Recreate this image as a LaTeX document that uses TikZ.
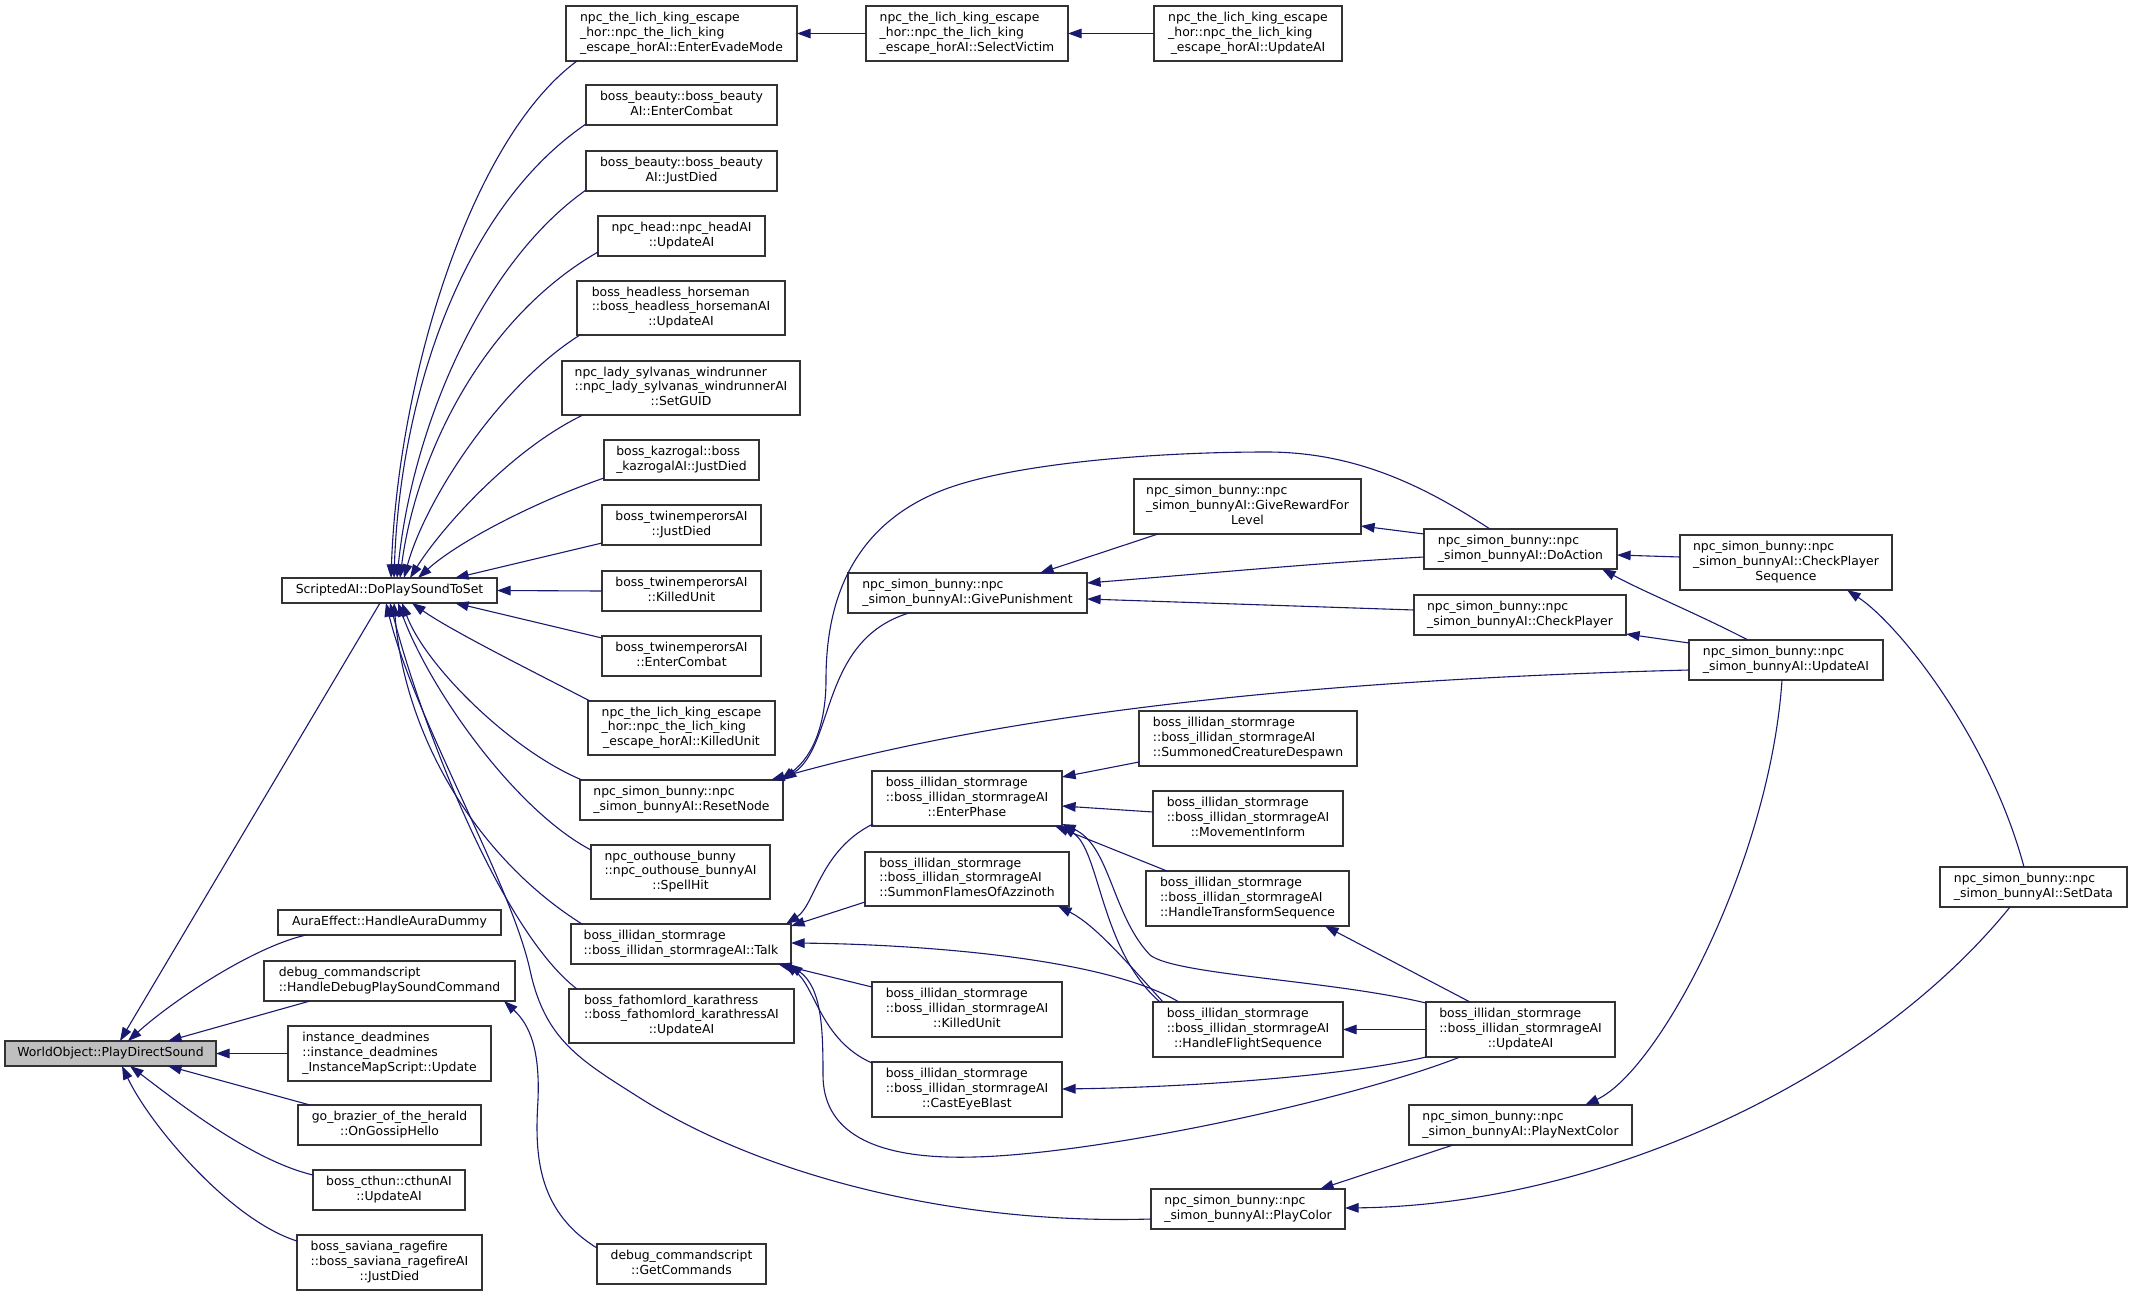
\documentclass[tikz,border=0pt]{standalone}
\usepackage{fontspec}
\setmainfont{DejaVu Sans}
\usetikzlibrary{arrows.meta,calc}
\definecolor{mblue}{RGB}{25,25,112}
\definecolor{rootfill}{RGB}{191,191,191}
\newcommand\twol[2]{\begin{tabular}{@{}l@{}}#1\\\multicolumn{1}{@{}c@{}}{#2}\end{tabular}}
\newcommand\threel[3]{\begin{tabular}{@{}l@{}}#1\\#2\\\multicolumn{1}{@{}c@{}}{#3}\end{tabular}}
\newcommand\ill[1]{\threel{boss\_illidan\_stormrage}{::boss\_illidan\_stormrageAI}{#1}}
\newcommand\snb[1]{\twol{npc\_simon\_bunny::npc}{#1}}
\newcommand\lkt[1]{\threel{npc\_the\_lich\_king\_escape}{\_hor::npc\_the\_lich\_king}{#1}}
\newcommand\bx[7][]{%
  \pgfmathsetmacro\bxw{(#5-#3)*0.5}%
  \pgfmathsetmacro\bxh{(#6-#4)*0.5}%
  \node[boxst,#1,minimum width=\bxw pt,minimum height=\bxh pt] (#2) at ({(#3+#5)/2},{(#4+#6)/2}) {#7};%
}
\newcommand\bp[3]{($(#1.north west)+(#2,#3)$)}
\begin{document}
\begin{tikzpicture}[x=0.5pt,y=-0.5pt,
  boxst/.style={draw=black!80,line width=0.65pt,fill=white,inner sep=0pt,outer sep=0pt,
    font=\fontsize{6.2}{7.3}\selectfont,anchor=center},
  cl/.style={draw=mblue,line width=0.55pt,{Triangle[length=6.8pt,width=4.8pt]}-}]
\fill[white] (0,0) rectangle (2132,1296);
\useasboundingbox (0,0) rectangle (2132,1296);
% nodes
\bx[fill=rootfill]{w}{5}{1041}{216}{1066}{WorldObject::PlayDirectSound}
\bx{sa}{282}{578}{497}{603}{ScriptedAI::DoPlaySoundToSet}
\bx{eem}{566}{6}{797}{61}{\lkt{\_escape\_horAI::EnterEvadeMode}}
\bx{sv}{866}{6}{1068}{61}{\lkt{\_escape\_horAI::SelectVictim}}
\bx{lkua}{1154}{6}{1342}{61}{\lkt{\_escape\_horAI::UpdateAI}}
\bx{bec}{586}{85}{777}{125}{\twol{boss\_beauty::boss\_beauty}{AI::EnterCombat}}
\bx{bjd}{586}{151}{777}{191}{\twol{boss\_beauty::boss\_beauty}{AI::JustDied}}
\bx{nhu}{598}{216}{765}{256}{\twol{npc\_head::npc\_headAI}{::UpdateAI}}
\bx{hh}{577}{281}{785}{335}{\threel{boss\_headless\_horseman}{::boss\_headless\_horsemanAI}{::UpdateAI}}
\bx{ls}{562}{361}{800}{415}{\threel{npc\_lady\_sylvanas\_windrunner}{::npc\_lady\_sylvanas\_windrunnerAI}{::SetGUID}}
\bx{kz}{604}{440}{759}{480}{\twol{boss\_kazrogal::boss}{\_kazrogalAI::JustDied}}
\bx{tjd}{602}{505}{761}{545}{\twol{boss\_twinemperorsAI}{::JustDied}}
\bx{tku}{602}{571}{761}{611}{\twol{boss\_twinemperorsAI}{::KilledUnit}}
\bx{tec}{602}{636}{761}{676}{\twol{boss\_twinemperorsAI}{::EnterCombat}}
\bx{lkku}{588}{701}{775}{755}{\lkt{\_escape\_horAI::KilledUnit}}
\bx{rn}{580}{780}{783}{820}{\snb{\_simon\_bunnyAI::ResetNode}}
\bx{oh}{591}{845}{770}{899}{\threel{npc\_outhouse\_bunny}{::npc\_outhouse\_bunnyAI}{::SpellHit}}
\bx{talk}{571}{924}{791}{964}{\twol{boss\_illidan\_stormrage}{::boss\_illidan\_stormrageAI::Talk}}
\bx{fl}{569}{989}{794}{1043}{\threel{boss\_fathomlord\_karathress}{::boss\_fathomlord\_karathressAI}{::UpdateAI}}
\bx{gc}{597}{1244}{766}{1284}{\twol{debug\_commandscript}{::GetCommands}}
\bx{ae}{278}{910}{501}{935}{AuraEffect::HandleAuraDummy}
\bx{hd}{264}{961}{515}{1001}{\twol{debug\_commandscript}{::HandleDebugPlaySoundCommand}}
\bx{id}{288}{1026}{491}{1081}{\threel{instance\_deadmines}{::instance\_deadmines}{\_InstanceMapScript::Update}}
\bx{gb}{298}{1105}{481}{1145}{\twol{go\_brazier\_of\_the\_herald}{::OnGossipHello}}
\bx{ct}{313}{1170}{465}{1210}{\twol{boss\_cthun::cthunAI}{::UpdateAI}}
\bx{sav}{297}{1235}{482}{1290}{\threel{boss\_saviana\_ragefire}{::boss\_saviana\_ragefireAI}{::JustDied}}
\bx{gp}{848}{573}{1087}{613}{\snb{\_simon\_bunnyAI::GivePunishment}}
\bx{ep}{872}{771}{1062}{826}{\ill{::EnterPhase}}
\bx{sf}{865}{852}{1069}{906}{\ill{::SummonFlamesOfAzzinoth}}
\bx{iku}{872}{982}{1062}{1037}{\ill{::KilledUnit}}
\bx{ceb}{872}{1062}{1062}{1117}{\ill{::CastEyeBlast}}
\bx{grl}{1134}{479}{1361}{534}{\threel{npc\_simon\_bunny::npc}{\_simon\_bunnyAI::GiveRewardFor}{Level}}
\bx{da}{1424}{529}{1617}{569}{\snb{\_simon\_bunnyAI::DoAction}}
\bx{cp}{1414}{595}{1626}{635}{\snb{\_simon\_bunnyAI::CheckPlayer}}
\bx{scd}{1139}{711}{1357}{766}{\ill{::SummonedCreatureDespawn}}
\bx{mi}{1153}{791}{1343}{846}{\ill{::MovementInform}}
\bx{hts}{1146}{871}{1349}{926}{\ill{::HandleTransformSequence}}
\bx{hfs}{1153}{1002}{1343}{1057}{\ill{::HandleFlightSequence}}
\bx{iua}{1426}{1002}{1615}{1057}{\ill{::UpdateAI}}
\bx{pnc}{1409}{1105}{1632}{1145}{\snb{\_simon\_bunnyAI::PlayNextColor}}
\bx{pc}{1151}{1189}{1345}{1229}{\snb{\_simon\_bunnyAI::PlayColor}}
\bx{cps}{1680}{535}{1892}{590}{\threel{npc\_simon\_bunny::npc}{\_simon\_bunnyAI::CheckPlayer}{Sequence}}
\bx{sua}{1689}{640}{1883}{680}{\snb{\_simon\_bunnyAI::UpdateAI}}
\bx{sd}{1940}{867}{2127}{907}{\snb{\_simon\_bunnyAI::SetData}}
% edges into root
\draw[cl] \bp{w}{115}{0} -- \bp{sa}{98}{25};
\draw[cl] \bp{w}{123}{0} .. controls (170,1003) and (250,948) .. \bp{ae}{28}{25};
\draw[cl] \bp{w}{163}{0} -- \bp{hd}{46}{40};
\draw[cl] (w.east) -- (id.west);
\draw[cl] \bp{w}{163}{25} -- \bp{gb}{12}{0};
\draw[cl] \bp{w}{125}{25} .. controls (175,1100) and (250,1160) .. \bp{ct}{0}{5};
\draw[cl] \bp{w}{117}{25} .. controls (150,1125) and (230,1220) .. \bp{sav}{0}{6};
\draw[cl] \bp{hd}{240}{40} .. controls (530,1025) and (540,1050) .. (538,1100)
  .. controls (535,1150) and (535,1210) .. \bp{gc}{0}{4};
% edges into ScriptedAI (top)
\draw[cl] \bp{sa}{109}{0} .. controls (398,380) and (470,140) .. \bp{eem}{11}{55};
\draw[cl] \bp{sa}{112}{0} .. controls (400,400) and (460,210) .. \bp{bec}{0}{39};
\draw[cl] \bp{sa}{115}{0} .. controls (412,430) and (480,265) .. \bp{bjd}{0}{39};
\draw[cl] \bp{sa}{118}{0} .. controls (415,460) and (480,320) .. \bp{nhu}{0}{36};
\draw[cl] \bp{sa}{122}{0} .. controls (425,500) and (500,385) .. \bp{hh}{3}{54};
\draw[cl] \bp{sa}{128}{0} .. controls (440,530) and (510,450) .. \bp{ls}{21}{54};
\draw[cl] \bp{sa}{136}{0} .. controls (460,540) and (540,500) .. \bp{kz}{0}{38};
\draw[cl] \bp{sa}{173}{0} -- \bp{tjd}{0}{38};
\draw[cl] (sa.east) -- (tku.west);
% edges into ScriptedAI (bottom)
\draw[cl] \bp{sa}{173}{25} -- \bp{tec}{0}{2};
\draw[cl] \bp{sa}{130}{25} .. controls (450,630) and (530,670) .. \bp{lkku}{2}{0};
\draw[cl] \bp{sa}{120}{25} .. controls (425,665) and (510,750) .. \bp{rn}{2}{0};
\draw[cl] \bp{sa}{116}{25} .. controls (430,690) and (515,810) .. \bp{oh}{0}{5};
\draw[cl] \bp{sa}{112}{25} .. controls (405,740) and (480,860) .. \bp{talk}{11}{0};
\draw[cl] \bp{sa}{108}{25} .. controls (420,720) and (500,930) .. \bp{fl}{8}{0};
\draw[cl] \bp{sa}{104}{25} .. controls (415,720) and (510,880) .. (530,970)
  .. controls (545,1040) and (580,1060) .. (640,1098)
  .. controls (760,1174) and (950,1225) .. \bp{pc}{0}{30};
% lich king chain
\draw[cl] (eem.east) -- (sv.west);
\draw[cl] (sv.east) -- (lkua.west);
% simon bunny
\draw[cl] (rn.north east) .. controls (835,745) and (820,640) .. \bp{gp}{61}{40};
\draw[cl] \bp{rn}{201}{0} .. controls (815,755) and (826,720) .. (826,680)
  .. controls (826,620) and (840,530) .. (943,490)
  .. controls (1010,464) and (1150,452) .. (1267,452)
  .. controls (1360,452) and (1430,490) .. \bp{da}{66}{0};
\draw[cl] \bp{rn}{191}{0} .. controls (1000,715) and (1300,680) .. \bp{sua}{0}{30};
\draw[cl] \bp{gp}{192}{0} -- \bp{grl}{24}{55};
\draw[cl] \bp{gp}{239}{10} .. controls (1200,574) and (1330,562) .. \bp{da}{0}{28};
\draw[cl] \bp{gp}{239}{26} -- \bp{cp}{0}{15};
\draw[cl] \bp{grl}{227}{47} -- \bp{da}{0}{5};
\draw[cl] \bp{da}{193}{26} -- \bp{cps}{0}{22};
\draw[cl] \bp{da}{178}{40} .. controls (1640,590) and (1700,615) .. \bp{sua}{59}{0};
\draw[cl] \bp{cp}{212}{39} -- \bp{sua}{0}{3};
\draw[cl] \bp{cps}{167}{55} .. controls (1900,625) and (1990,740) .. \bp{sd}{84}{0};
\draw[cl] \bp{pnc}{176}{0} .. controls (1660,1070) and (1770,860) .. \bp{sua}{93}{40};
\draw[cl] \bp{pc}{194}{19} .. controls (1600,1205) and (1870,1080) .. \bp{sd}{70}{40};
\draw[cl] \bp{pc}{169}{0} -- \bp{pnc}{44}{40};
% illidan: into Talk
\draw[cl] \bp{talk}{215}{0} .. controls (815,905) and (820,850) .. \bp{ep}{1}{53};
\draw[cl] \bp{talk}{220}{2} -- \bp{sf}{0}{50};
\draw[cl] \bp{talk}{220}{19} .. controls (900,944) and (1100,955) .. \bp{hfs}{26}{0};
\draw[cl] \bp{talk}{207}{40} -- \bp{iku}{0}{5};
\draw[cl] \bp{talk}{213}{40} .. controls (815,985) and (820,1040) .. \bp{ceb}{0}{1};
\draw[cl] \bp{talk}{218}{40} .. controls (822,988) and (823,1030) .. (823,1075)
  .. controls (823,1130) and (870,1160) .. (974,1157)
  .. controls (1100,1154) and (1350,1100) .. \bp{iua}{34}{55};
% illidan: into EnterPhase
\draw[cl] \bp{ep}{190}{6} -- \bp{scd}{0}{51};
\draw[cl] \bp{ep}{190}{35} -- \bp{mi}{0}{21};
\draw[cl] \bp{ep}{183}{55} -- \bp{hts}{21}{0};
\draw[cl] (ep.south east) .. controls (1100,850) and (1100,950) .. \bp{hfs}{7}{0};
\draw[cl] \bp{ep}{190}{53} .. controls (1110,845) and (1112,915) .. (1150,955)
  .. controls (1175,975) and (1330,980) .. \bp{iua}{0}{1};
% illidan: others
\draw[cl] \bp{sf}{193}{54} .. controls (1095,925) and (1125,960) .. \bp{hfs}{10}{0};
\draw[cl] \bp{hts}{179}{55} -- \bp{iua}{44}{0};
\draw[cl] (hfs.east) -- (iua.west);
\draw[cl] \bp{ceb}{190}{27} .. controls (1200,1087) and (1350,1075) .. \bp{iua}{0}{55};
\end{tikzpicture}
\end{document}
